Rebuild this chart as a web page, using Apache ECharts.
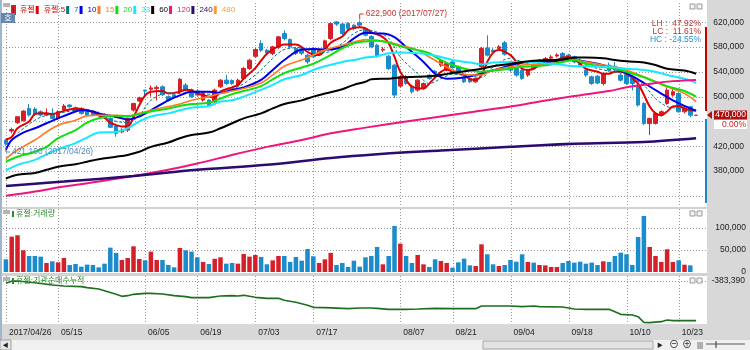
<!DOCTYPE html>
<html><head><meta charset="utf-8">
<script src="https://cdn.jsdelivr.net/npm/echarts@6/dist/echarts.min.js"></script>
<style>html,body{margin:0;padding:0;background:#fff}#c{width:750px;height:350px}</style>
</head><body><div id="c"></div>
<script>
// ---------------- DATA ----------------
const dates = [
'2017/04/26','2017/04/27','2017/04/28',
'2017/05/02','2017/05/04','2017/05/08','2017/05/10','2017/05/11','2017/05/12',
'2017/05/15','2017/05/16','2017/05/17','2017/05/18','2017/05/19',
'2017/05/22','2017/05/23','2017/05/24','2017/05/25','2017/05/26',
'2017/05/29','2017/05/30','2017/05/31','2017/06/01','2017/06/02',
'2017/06/05','2017/06/07','2017/06/08','2017/06/09',
'2017/06/12','2017/06/13','2017/06/14','2017/06/15','2017/06/16',
'2017/06/19','2017/06/20','2017/06/21','2017/06/22','2017/06/23',
'2017/06/26','2017/06/27','2017/06/28','2017/06/29','2017/06/30',
'2017/07/03','2017/07/04','2017/07/05','2017/07/06','2017/07/07',
'2017/07/10','2017/07/11','2017/07/12','2017/07/13','2017/07/14',
'2017/07/17','2017/07/18','2017/07/19','2017/07/20','2017/07/21',
'2017/07/24','2017/07/25','2017/07/26','2017/07/27','2017/07/28',
'2017/07/31','2017/08/01','2017/08/02','2017/08/03','2017/08/04',
'2017/08/07','2017/08/08','2017/08/09','2017/08/10','2017/08/11',
'2017/08/14','2017/08/16','2017/08/17','2017/08/18',
'2017/08/21','2017/08/22','2017/08/23','2017/08/24','2017/08/25',
'2017/08/28','2017/08/29','2017/08/30','2017/08/31','2017/09/01',
'2017/09/04','2017/09/05','2017/09/06','2017/09/07','2017/09/08',
'2017/09/11','2017/09/12','2017/09/13','2017/09/14','2017/09/15',
'2017/09/18','2017/09/19','2017/09/20','2017/09/21','2017/09/22',
'2017/09/25','2017/09/26','2017/09/27','2017/09/28','2017/09/29',
'2017/10/10','2017/10/11','2017/10/12','2017/10/13',
'2017/10/16','2017/10/17','2017/10/18','2017/10/19','2017/10/20',
'2017/10/23','2017/10/24','2017/10/25','2017/10/26'
];
const labelDates = ['2017/04/26','2017/05/15','2017/06/05','2017/06/19','2017/07/03','2017/07/17',
  '2017/08/07','2017/08/21','2017/09/04','2017/09/18','2017/10/10','2017/10/23'];

const openP = [
430000,444500,458000,461000,481000,480000,475600,470300,472900,464900,
478300,486400,482000,481000,475600,475600,472900,470300,464900,452500,
443000,446100,478300,493000,510500,512000,513000,515900,500000,503000,
508000,518600,511000,509000,494400,494400,491700,515900,526600,526000,
518600,529300,545400,565000,585700,574900,569500,579800,601700,592000,
577600,577000,566900,577600,569500,577600,593700,620500,617000,617800,
615200,619000,609800,597000,583000,575000,565300,550800,517000,531000,
517000,510500,513200,534700,541000,550800,542700,556000,548100,532000,
529300,523900,548100,578500,574900,577600,586800,550800,545400,542700,
534700,550800,553400,558800,562000,565500,569500,567000,564200,559000,
542700,532000,533000,521200,550800,549000,534700,534700,529300,518600,
489000,456800,456800,470300,489000,502500,505100,475600,483700,470000];
const closeP = [
423500,447000,467600,476700,470300,472000,470300,472900,464900,475600,
485000,483700,477000,472900,470300,470300,470300,466500,450500,440700,
446000,464900,489000,498000,509000,514000,515000,503000,494400,499000,
528000,510500,500000,502500,506000,486400,510500,526600,521200,521000,
526600,545400,558800,576000,574900,570600,580300,596400,593700,580300,
569500,570000,556100,564200,574900,590000,617800,617000,601700,609800,
609800,615200,599100,580300,565300,576500,545400,502500,532000,521200,
507800,526600,521200,529300,538000,558800,553400,547000,540000,523900,
523900,529300,577600,566900,572000,580300,568500,542700,534700,529300,
542700,545400,558800,561500,564000,567300,563000,558800,556100,550800,
534700,521200,522000,537300,542700,543000,526600,521200,521200,486400,
456800,464900,472900,475600,510500,507800,475600,481000,470000,470000];
const lowP = [
421100,440700,456000,460000,468000,469000,468000,469000,463500,463000,
476000,482000,475600,471000,469000,468000,468000,465000,449000,435400,
441000,443000,476000,491000,502500,500000,494000,501000,492000,497000,
506000,508000,498000,500000,492000,484000,489000,514000,519000,519000,
516000,527000,543000,563000,572000,568000,567000,577000,591000,578000,
567000,567000,553000,562000,567000,575000,591000,614000,599000,607000,
607000,612000,597000,578000,563000,572000,543000,498000,515000,519000,
505000,508000,511000,527000,536000,548000,541000,545000,538000,522000,
522000,522000,546000,565000,569000,576000,566000,540000,532000,527000,
532000,543000,551000,556000,560000,563000,561000,556000,554000,549000,
532000,519000,520000,518000,540000,541000,524000,519000,510000,484000,
454000,438000,455000,468000,487000,500000,474000,473000,467000,470000];
const highP = [
431000,450000,468500,478000,488000,483000,478000,481000,481000,478000,
488000,488000,484000,483000,478000,477000,476000,473000,467000,455000,
449000,466000,490000,500000,511000,518000,518000,518000,502000,505000,
530000,522000,513000,512000,508000,496000,513000,528000,535000,528000,
529000,548000,561000,578000,591000,577000,582000,598000,607000,594000,
580000,579000,569000,580000,577000,592000,619000,622000,619000,620000,
617000,622900,612000,599000,585000,580000,567000,553000,534000,535000,
519000,528000,523000,536000,543000,561000,555000,558000,550000,534000,
531000,531000,580000,599000,578000,583000,590000,555000,547000,544000,
545000,552000,560000,564000,567000,570000,572000,569000,566000,561000,
545000,534000,535000,539000,555000,556000,537000,537000,531000,520000,
491000,466000,474000,478000,515000,512000,507000,484000,485000,470000];

const volume = [
28600,79700,82800,49000,36100,36100,34600,20300,24100,21800,
31600,15800,18100,12000,16600,15800,10500,18800,54900,42900,
27100,31600,57900,29300,26300,45900,27100,27100,15800,10500,
54200,49000,45900,33100,22600,18100,29800,33100,18800,20300,
18800,40600,34600,38400,33900,17400,26300,36100,36100,22600,
33900,25600,51900,35400,20300,28600,42900,15800,20300,11300,
25600,12000,33100,36100,56400,17300,36100,103800,63900,36100,
20300,38400,17300,11300,28600,24800,20300,9800,21800,30100,
15000,13500,62400,39900,17300,13500,15800,27100,23300,39900,
22600,21100,15800,15000,11300,11300,20300,24800,21100,23300,
18800,21100,15800,24100,22600,36100,43600,39900,15800,79000,
126400,56400,36100,22600,51200,22600,26300,16500,15000,0];

// moving averages: [candle index, value]
const ma5 = [[0,431000],[1,435000],[2,449000],[4,460000],[5,472000],[6,473000],[7,473000],[8,472000],[9,474000],[10,477000],[12,481000],[14,478000],[15,475000],[16,470000],[17,466000],[18,458000],[20,452000],[21,452000],[22,467000],[23,486000],[24,502000],[25,508000],[27,509000],[28,505000],[30,508000],[31,511000],[32,510000],[33,505000],[35,500000],[36,499000],[37,508000],[38,512000],[39,515000],[40,519000],[41,529000],[43,546000],[44,558000],[45,569000],[46,576000],[47,581000],[48,584000],[50,584000],[51,580000],[52,572000],[53,568000],[54,567000],[55,575000],[56,587000],[58,597000],[59,607000],[60,611000],[61,612000],[62,610000],[63,604000],[65,596000],[66,586000],[67,564000],[68,540000],[69,527000],[70,516000],[72,513000],[73,521000],[74,531000],[75,540000],[76,544000],[77,540000],[79,535000],[80,528000],[81,527000],[82,535000],[83,556000],[84,571000],[85,575000],[87,567000],[88,556000],[89,545000],[90,543000],[91,545000],[92,551000],[93,555000],[95,559000],[96,563000],[97,564000],[98,560000],[99,553000],[100,545000],[102,540000],[103,537000],[104,537000],[105,540000],[106,540000],[107,537000],[108,530000],[109,521000],[110,503000],[111,484000],[112,473000],[113,470000],[114,476000],[115,484000],[116,485000],[117,481000],[118,478000],[119,478000]];
const ma7 = [[2,441000],[5,462000],[7,470000],[9,473000],[12,478000],[14,479000],[16,473000],[18,463000],[21,458000],[23,470000],[25,494000],[28,506000],[30,505000],[32,508000],[35,504000],[37,505000],[39,512000],[41,521000],[44,543000],[46,562000],[48,576000],[51,579000],[53,572000],[55,571000],[58,586000],[60,602000],[62,608000],[64,604000],[66,594000],[68,564000],[71,537000],[73,521000],[75,529000],[77,536000],[80,533000],[82,531000],[84,548000],[87,562000],[89,556000],[91,551000],[94,553000],[96,559000],[98,559000],[100,551000],[103,543000],[105,540000],[107,535000],[110,518000],[112,497000],[114,484000],[116,481000],[119,476000]];
const ma10 = [[0,414000],[1,430000],[3,442000],[5,449000],[7,457000],[9,465000],[12,476000],[13,478000],[15,476000],[16,473000],[18,469000],[20,465000],[21,463000],[23,468000],[25,478000],[28,494000],[30,502000],[32,508000],[35,508000],[37,506000],[39,511000],[41,515000],[44,527000],[46,543000],[48,559000],[51,576000],[53,577000],[55,576000],[58,580000],[60,594000],[62,603000],[64,602000],[65,602000],[67,596000],[69,580000],[72,556000],[74,537000],[76,529000],[79,531000],[81,535000],[83,540000],[85,545000],[88,553000],[90,556000],[92,556000],[95,557000],[97,559000],[99,558000],[102,553000],[104,548000],[106,542000],[108,533000],[110,522000],[113,505000],[115,494000],[117,485000],[119,477000]];
const ma15 = [[0,400000],[2,414000],[5,430000],[7,443000],[9,454000],[12,462000],[14,469000],[16,470000],[19,470000],[21,469000],[23,473000],[25,478000],[28,484000],[30,488000],[32,494000],[35,500000],[37,505000],[39,509000],[41,513000],[44,522000],[46,535000],[48,549000],[51,559000],[53,567000],[55,575000],[58,583000],[60,588000],[62,592000],[64,591000],[66,588000],[68,583000],[71,575000],[73,564000],[75,553000],[77,543000],[80,535000],[82,535000],[84,543000],[87,548000],[89,551000],[91,552000],[94,553000],[96,557000],[98,559000],[100,556000],[103,551000],[105,548000],[107,543000],[110,532000],[112,524000],[114,516000],[117,505000],[119,492000]];
const ma20 = [[0,395000],[2,403000],[5,411000],[7,419000],[9,433000],[12,446000],[14,458000],[16,465000],[19,469000],[21,468000],[23,472000],[25,476000],[28,481000],[30,485000],[32,488000],[35,490000],[37,497000],[39,504000],[41,509000],[44,517000],[46,528000],[48,538000],[51,547000],[53,553000],[55,562000],[58,578000],[60,586000],[62,589000],[64,590000],[66,587000],[68,581000],[71,575000],[73,570000],[75,559000],[77,551000],[80,543000],[82,540000],[84,542000],[87,545000],[89,548000],[91,549000],[94,552000],[96,556000],[98,559000],[100,553000],[103,548000],[105,545000],[107,540000],[110,531000],[112,524000],[114,517000],[117,509000],[119,500000]];
const ma33 = [[0,381000],[2,390000],[5,398000],[7,407000],[9,415000],[12,425000],[14,434000],[16,442000],[19,443000],[21,449000],[23,460000],[25,468000],[28,473000],[30,478000],[32,482000],[35,485000],[37,492000],[39,494000],[41,500000],[44,511000],[46,519000],[48,528000],[51,535000],[53,543000],[55,549000],[58,556000],[60,559000],[62,563000],[64,565000],[66,570000],[68,571000],[71,570000],[73,568000],[75,564000],[77,559000],[80,555000],[82,552000],[84,555000],[87,556000],[89,556000],[91,555000],[94,553000],[96,551000],[98,549000],[100,549000],[103,548000],[105,547000],[107,545000],[110,543000],[112,540000],[114,535000],[117,529000],[119,522000]];
const ma60 = [[0,368000],[2,374000],[5,377000],[7,382000],[9,387000],[12,391000],[14,395000],[16,399000],[19,403000],[21,406000],[23,411000],[25,419000],[28,426000],[30,433000],[32,438000],[35,442000],[37,449000],[39,457000],[41,465000],[44,473000],[46,481000],[48,488000],[51,494000],[53,500000],[55,505000],[58,512000],[60,519000],[62,524000],[63,528000],[66,529000],[68,531000],[71,532000],[73,533000],[75,535000],[77,538000],[80,542000],[82,545000],[84,549000],[87,553000],[89,556000],[91,558000],[94,559000],[96,560000],[98,563000],[100,563000],[103,562000],[105,559000],[107,557000],[110,555000],[112,551000],[114,545000],[117,542000],[119,537000]];
const ma120 = [[0,340000],[5,347000],[10,355000],[16,363000],[22,372000],[28,382000],[33,392000],[39,406000],[45,419000],[51,430000],[56,441000],[62,450000],[69,460000],[75,468000],[81,476000],[87,484000],[92,492000],[98,501000],[104,509000],[107,515000],[110,519000],[112,522000],[115,525000],[119,527000]];
const ma240 = [[0,356000],[10,363000],[22,372000],[33,382000],[45,390000],[56,401000],[64,407000],[75,413000],[87,419000],[98,424000],[110,427000],[119,433000]];
const ma480 = [];

// institutional cumulative net buying
const instCum = [[0,-406700],[1,-385000],[2,-383390],[5,-400400],[8,-423400],[10,-433400],[13,-440000],[14,-450000],[16,-463400],[17,-480000],[19,-516700],[20,-536700],[21,-530000],[22,-516700],[24,-506700],[25,-506700],[27,-513400],[29,-530000],[31,-540000],[32,-550000],[35,-550000],[37,-533400],[39,-530000],[40,-533400],[41,-526700],[43,-546700],[45,-556700],[47,-556700],[48,-576700],[50,-596700],[52,-626700],[53,-646700],[55,-650000],[59,-660000],[61,-653400],[63,-653400],[64,-656700],[66,-666700],[69,-666700],[71,-663400],[74,-656700],[77,-660000],[81,-660000],[82,-633400],[87,-633400],[89,-640000],[91,-633400],[92,-640000],[96,-643400],[98,-663400],[100,-666700],[104,-666700],[105,-690000],[106,-716700],[108,-723400],[109,-740000],[110,-796700],[111,-800000],[113,-790000],[114,-773400],[115,-780000],[119,-780000]];

const priceGrid = [340000,380000,420000,460000,500000,540000,580000,620000];
const priceLabels = [380000,420000,500000,540000,580000,620000];
const volTicks = [0,50000,100000];
const instTicks = [-383390];
const lastPrice = 470000;
const lastChange = '0.00%';
const highMark = {idx: 61, value: 622900, date: '2017/07/27'};
const lowMark = {idx: 0, value: 421100, date: '2017/04/26'};
const stats = [['LH :  47.92%','#c83030'],['LC :  11.61%','#c83030'],['HC : -24.55%','#2f8ccc']];

// ---------------- STYLE ----------------
const UP = '#d62029', DOWN = '#1a8bcb';
const FONT = '"Liberation Sans", "Noto Sans CJK KR", sans-serif';
const fmt = v => Number(v).toLocaleString('en-US');
const GRIDC = '#9a9a9a';

const maDefs = [
  {name:'휴젤:5', data:ma5,  color:'#e00000', width:2},
  {name:'7',      data:ma7,  color:'#007a7a', width:1, type:[3,2]},
  {name:'10',     data:ma10, color:'#0000e6', width:2},
  {name:'15',     data:ma15, color:'#ff7a26', width:1.6},
  {name:'20',     data:ma20, color:'#10e010', width:2},
  {name:'33',     data:ma33, color:'#19e6ff', width:2},
  {name:'60',     data:ma60, color:'#000000', width:2},
  {name:'120',    data:ma120,color:'#f0147c', width:2},
  {name:'240',    data:ma240,color:'#2c0a6e', width:2.5},
  {name:'480',    data:ma480,color:'#ff9a3c', width:1.5}
];

const legendData = [{name:'휴젤', itemStyle:{color:'#d00000'}, textStyle:{color:'#d00000'}}]
  .concat(maDefs.map(m => ({name:m.name, itemStyle:{color:m.color}, textStyle:{color:m.color}})));

const grids = [
  {left:3, top:3, width:696, height:204},
  {left:3, top:209, width:696, height:63},
  {left:3, top:276, width:696, height:48}
];

const option = {
  animation:false,
  backgroundColor:'#ffffff',
  textStyle:{fontFamily:FONT},
  legend:{
    left:11, top:5, padding:0, icon:'rect', itemWidth:3, itemHeight:8, itemGap:1,
    selectedMode:false, textStyle:{fontSize:8, fontFamily:FONT}, data:legendData
  },
  grid:grids,
  xAxis:[0,1,2].map(gi => ({
    type:'category', gridIndex:gi, data:dates, boundaryGap:true,
    axisLine:{show:false}, axisTick:{show:false}, splitLine:{show:false},
    axisLabel: gi === 2 ? {
      show:true, interval:(i, v) => labelDates.indexOf(v) >= 0,
      formatter: v => v === dates[0] ? v : v.slice(5),
      align:'left', padding:[0,0,0,3], margin:4, fontSize:8.5, color:'#222', fontFamily:FONT
    } : {show:false}
  })),
  yAxis:[
    {gridIndex:0, position:'right', min:322000, max:651000,
     axisLine:{show:false}, axisTick:{show:false}, splitLine:{show:false},
     axisLabel:{customValues:priceLabels, formatter:fmt, align:'right', margin:45, fontSize:8.5, color:'#222'}},
    {gridIndex:1, position:'right', min:0, max:142000,
     axisLine:{show:false}, axisTick:{show:false}, splitLine:{show:false},
     axisLabel:{customValues:volTicks, formatter:fmt, align:'right', margin:47, fontSize:8.5, color:'#222'}},
    {gridIndex:2, position:'right', min:-813390, max:-333390,
     axisLine:{show:false}, axisTick:{show:false}, splitLine:{show:false},
     axisLabel:{customValues:instTicks, formatter:fmt, align:'right', margin:46, fontSize:8.5, color:'#222'}}
  ],
  series:[
    {type:'candlestick', name:'휴젤', xAxisIndex:0, yAxisIndex:0, z:2, barWidth:4,
     data: dates.map((d, i) => [openP[i], closeP[i], lowP[i], highP[i]]),
     itemStyle:{color:UP, color0:DOWN, borderColor:UP, borderColor0:DOWN, borderWidth:1}}
  ].concat(maDefs.map(m => ({
    type:'line', name:m.name, xAxisIndex:0, yAxisIndex:0, z:3, data:m.data,
    showSymbol:false, smooth:0.35, color:m.color,
    lineStyle:{color:m.color, width:m.width, type:m.type || 'solid'}
  }))).concat([
    {type:'bar', name:'휴젤:거래량', xAxisIndex:1, yAxisIndex:1, barWidth:4.5, z:2,
     data: volume.map((v, i) => ({value:v, itemStyle:{color: closeP[i] >= openP[i] ? UP : DOWN}}))},
    {type:'line', name:'휴젤:기관순매수누적', xAxisIndex:2, yAxisIndex:2, z:3, data:instCum,
     showSymbol:false, color:'#1d6e1d', lineStyle:{color:'#1d6e1d', width:1.6}}
  ])
};

const chart = echarts.init(document.getElementById('c'));
chart.setOption(option);

// ---------------- DECORATION ----------------
const R = (x, y, w, h, fill, z, extra) => ({type:'rect', silent:true, z:(z == null ? -100 : z),
  shape:{x:x, y:y, width:w, height:h}, style:Object.assign({fill:fill}, extra || {})});
const T = (x, y, text, extra) => ({type:'text', silent:true, z:60, x:x, y:y,
  style:Object.assign({text:text, fontSize:8.5, fontFamily:FONT, fill:'#333', align:'left', verticalAlign:'middle'}, extra || {})});
const L = (pts, color, z) => ({type:'polyline', silent:true, z:(z == null ? 60 : z), shape:{points:pts},
  style:{stroke:color, lineWidth:1, fill:null}});
// dotted line drawn as a sequence of tiny dots (rect elements)
const dots = (x0, y0, x1, y1, color) => {
  const out = [];
  const len = Math.max(Math.abs(x1 - x0), Math.abs(y1 - y0));
  for (let s = 0; s <= len; s += 3) {
    const x = x0 === x1 ? x0 : x0 + s, y = y0 === y1 ? y0 : y0 + s;
    out.push([x, y]);
  }
  return out.map(p => ({type:'rect', silent:true, z:-60, shape:{x:p[0], y:p[1], width:1, height:1}, style:{fill:color}}));
};

let g = [];
// dotted grid lines positioned through the axes' own scales
const yTicksByGrid = [priceGrid, volTicks.slice(1), instTicks];
yTicksByGrid.forEach((ticks, gi) => {
  ticks.forEach(v => {
    const y = Math.round(chart.convertToPixel({gridIndex:gi}, [0, v])[1]);
    g = g.concat(dots(3, y, 706, y, GRIDC));
  });
  const top = grids[gi].top, bottom = grids[gi].top + grids[gi].height;
  labelDates.forEach(d => {
    const x = Math.round(chart.convertToPixel({gridIndex:gi}, [d, 0])[0]);
    g = g.concat(dots(x, top, x, bottom - 1, GRIDC));
  });
});

g.push(R(707, 0, 43, 340, '#d8d8d8'));
g.push(R(0, 324, 707, 16, '#d8d8d8'));
g.push(R(0, 207, 707, 2, '#d2d2d2'));
g.push(R(0, 273, 707, 3, '#d2d2d2'));
g.push(R(0, 0, 2, 340, '#9fb6cf', -90));
// pane handles
[3, 210, 277].forEach(y => {
  g.push(R(3, y, 7, 4, '#b4b4b4', 40));
  g.push(R(690, y + 1, 5, 5, '#f2f2f2', 40, {stroke:'#9a9a9a', lineWidth:1}));
  g.push(R(697, y + 1, 5, 5, '#f2f2f2', 40, {stroke:'#9a9a9a', lineWidth:1}));
});
// "호" button
g.push(R(1, 13, 14, 10, '#6587b0', 40));
g.push(T(8, 18.5, '호', {fill:'#ffffff', align:'center', fontSize:8}));
// pane titles
g.push(R(12, 211, 2, 6, '#2e8a2e', 40));
g.push(T(16, 214, '휴젤:거래량', {fill:'#2e8a2e', fontSize:8}));
g.push(R(12, 278, 2, 6, '#2e8a2e', 40));
g.push(T(16, 281, '휴젤:기관순매수누적', {fill:'#2e8a2e', fontSize:8}));
// stats
stats.forEach((s, k) => g.push(T(701, 23.5 + k * 8.3, s[0], {fill:s[1], align:'right', fontSize:8.5})));

// high / low annotations placed through the chart's own scales
const hp = chart.convertToPixel({gridIndex:0}, [highMark.idx, highMark.value]);
g.push(L([[hp[0], hp[1] - 1], [hp[0], 14], [hp[0] + 4, 14]], '#c83232'));
g.push(T(hp[0] + 6, 13.5, fmt(highMark.value) + ' (' + highMark.date + ')', {fill:'#c83232', fontSize:8.5}));
const lp = chart.convertToPixel({gridIndex:0}, [lowMark.idx, lowMark.value]);
g.push(L([[lp[0], lp[1] + 1], [lp[0], 152], [lp[0] + 4, 152]], '#4a86c0'));
g.push(T(lp[0] + 6, 152, fmt(lowMark.value) + ' (' + lowMark.date + ')', {fill:'#4a86c0', fontSize:8.5}));

// current price tag
const cp = chart.convertToPixel({gridIndex:0}, [dates.length - 1, lastPrice]);
const cy = Math.round(cp[1]);
g.push(R(705, 27, 2, cy - 4 - 27, '#c40000', 50));
g.push(R(705, cy + 4, 2, 203 - cy - 4, '#1a88c8', 50));
g.push({type:'polygon', silent:true, z:60, shape:{points:[[707, cy], [712, cy - 4], [712, cy + 4]]}, style:{fill:'#b01010'}});
g.push(R(714, cy - 4.5, 33, 9, '#b01010', 55));
g.push(T(746, cy, fmt(lastPrice), {fill:'#ffffff', align:'right'}));
g.push(R(714, cy + 5, 33, 9, '#ffffff', 55));
g.push(T(746, cy + 9.5, lastChange, {fill:'#d02020', align:'right'}));

// bottom scroll bar
g.push(R(0, 340, 750, 10, '#f0f0f0', -80));
g.push(R(0, 340, 11, 10, '#e6e6e6', 40, {stroke:'#a0a0a0', lineWidth:1}));
g.push(T(5.5, 345.5, '◀', {align:'center', fontSize:6, fill:'#222'}));
g.push(R(483, 341, 170, 8, '#e2e2e2', 40, {stroke:'#a8a8a8', lineWidth:1}));
g.push(T(660, 345.5, '▶', {align:'center', fontSize:6, fill:'#222'}));
g.push(T(674, 345, '⊖', {align:'center', fontSize:10, fill:'#333'}));
g.push(T(687, 345, '⊕', {align:'center', fontSize:10, fill:'#333'}));
g.push(T(700, 345, '|||', {align:'center', fontSize:8, fill:'#333'}));
g.push(L([[706, 344], [745, 344]], '#555'));
g.push(L([[716, 341], [716, 348]], '#333'));

chart.setOption({graphic:{elements:g}});
</script>
</body></html>
